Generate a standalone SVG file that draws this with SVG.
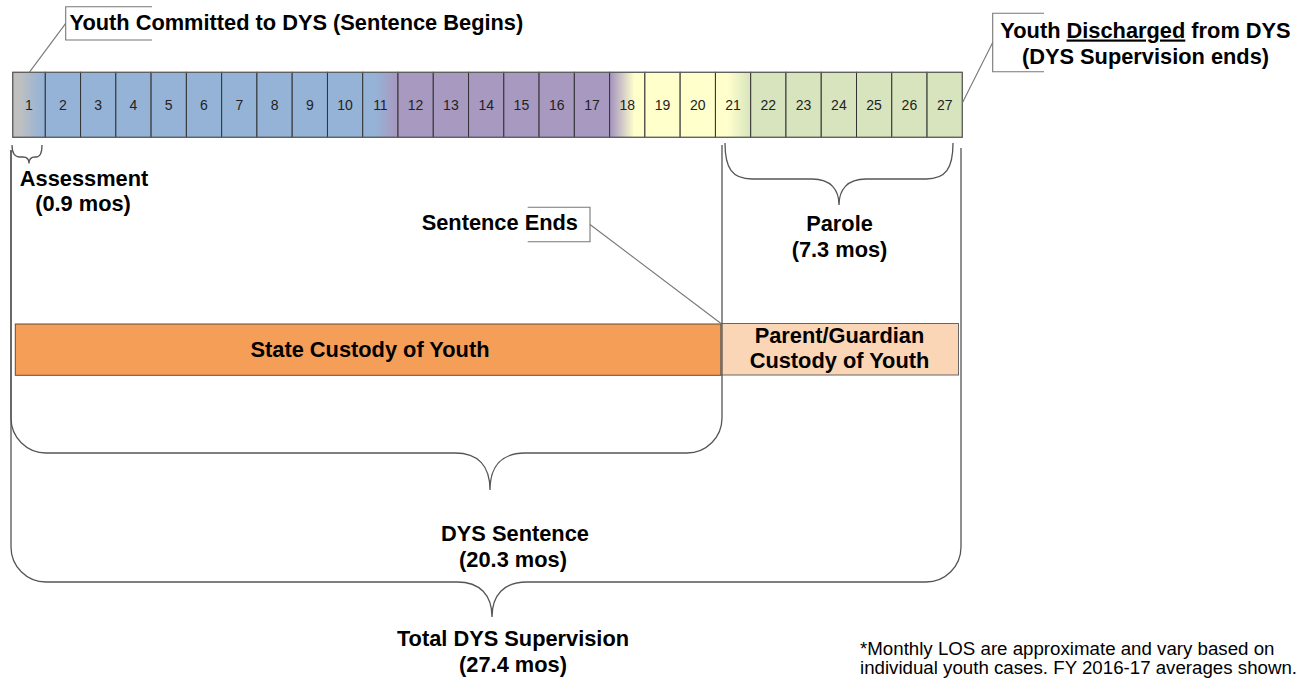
<svg xmlns="http://www.w3.org/2000/svg" width="1306" height="679" viewBox="0 0 1306 679">
<style>
.lbl{font-family:"Liberation Sans",Arial,sans-serif;font-weight:bold;font-size:21.8px;fill:#000}
.num{font-family:"Liberation Sans",Arial,sans-serif;font-size:14px;fill:#222;text-anchor:middle}
.note{font-family:"Liberation Sans",Arial,sans-serif;font-size:18.7px;fill:#000}
.mid{text-anchor:middle}
.cell{stroke:#333;stroke-width:1}
.blue{fill:#95B3D7}.purple{fill:#A899C0}.yellow{fill:#FFFFCC}.green{fill:#D7E4BD}
.brace{fill:none;stroke:#555;stroke-width:1.3}
.call{fill:none;stroke:#777;stroke-width:1.1}
</style>
<defs>
<linearGradient id="g1" x1="0" y1="0" x2="1" y2="0"><stop offset="0.2" stop-color="#C0C0C0"/><stop offset="0.9" stop-color="#95B3D7"/></linearGradient>
<linearGradient id="g11" x1="0" y1="0" x2="1" y2="0"><stop offset="0.35" stop-color="#95B3D7"/><stop offset="0.95" stop-color="#A899C0"/></linearGradient>
<linearGradient id="g18" x1="0" y1="0" x2="1" y2="0"><stop offset="0.05" stop-color="#A899C0"/><stop offset="0.7" stop-color="#FFFFCC"/></linearGradient>
<linearGradient id="g21" x1="0" y1="0" x2="1" y2="0"><stop offset="0.35" stop-color="#FFFFCC"/><stop offset="1" stop-color="#D7E4BD"/></linearGradient>
</defs>
<rect width="1306" height="679" fill="#fff"/>

<g id="timeline">
<g id="cell-1"><rect class="cell" x="12.7" y="72.3" width="32.6" height="65" fill="url(#g1)"/><text class="num" x="29" y="110">1</text></g>
<g id="cell-2"><rect class="cell blue" x="45.3" y="72.3" width="35.27" height="65"/><text class="num" x="62.9" y="110">2</text></g>
<g id="cell-3"><rect class="cell blue" x="80.57" y="72.3" width="35.27" height="65"/><text class="num" x="98.2" y="110">3</text></g>
<g id="cell-4"><rect class="cell blue" x="115.84" y="72.3" width="35.27" height="65"/><text class="num" x="133.5" y="110">4</text></g>
<g id="cell-5"><rect class="cell blue" x="151.11" y="72.3" width="35.27" height="65"/><text class="num" x="168.7" y="110">5</text></g>
<g id="cell-6"><rect class="cell blue" x="186.38" y="72.3" width="35.27" height="65"/><text class="num" x="204" y="110">6</text></g>
<g id="cell-7"><rect class="cell blue" x="221.65" y="72.3" width="35.27" height="65"/><text class="num" x="239.3" y="110">7</text></g>
<g id="cell-8"><rect class="cell blue" x="256.92" y="72.3" width="35.27" height="65"/><text class="num" x="274.6" y="110">8</text></g>
<g id="cell-9"><rect class="cell blue" x="292.19" y="72.3" width="35.27" height="65"/><text class="num" x="309.8" y="110">9</text></g>
<g id="cell-10"><rect class="cell blue" x="327.46" y="72.3" width="35.27" height="65"/><text class="num" x="345.1" y="110">10</text></g>
<g id="cell-11"><rect class="cell" x="362.73" y="72.3" width="35.27" height="65" fill="url(#g11)"/><text class="num" x="380.4" y="110">11</text></g>
<g id="cell-12"><rect class="cell purple" x="398" y="72.3" width="35.27" height="65"/><text class="num" x="415.6" y="110">12</text></g>
<g id="cell-13"><rect class="cell purple" x="433.27" y="72.3" width="35.27" height="65"/><text class="num" x="450.9" y="110">13</text></g>
<g id="cell-14"><rect class="cell purple" x="468.54" y="72.3" width="35.27" height="65"/><text class="num" x="486.2" y="110">14</text></g>
<g id="cell-15"><rect class="cell purple" x="503.81" y="72.3" width="35.27" height="65"/><text class="num" x="521.4" y="110">15</text></g>
<g id="cell-16"><rect class="cell purple" x="539.08" y="72.3" width="35.27" height="65"/><text class="num" x="556.7" y="110">16</text></g>
<g id="cell-17"><rect class="cell purple" x="574.35" y="72.3" width="35.27" height="65"/><text class="num" x="592" y="110">17</text></g>
<g id="cell-18"><rect class="cell" x="609.62" y="72.3" width="35.27" height="65" fill="url(#g18)"/><text class="num" x="627.3" y="110">18</text></g>
<g id="cell-19"><rect class="cell yellow" x="644.89" y="72.3" width="35.27" height="65"/><text class="num" x="662.5" y="110">19</text></g>
<g id="cell-20"><rect class="cell yellow" x="680.16" y="72.3" width="35.27" height="65"/><text class="num" x="697.8" y="110">20</text></g>
<g id="cell-21"><rect class="cell" x="715.43" y="72.3" width="35.27" height="65" fill="url(#g21)"/><text class="num" x="733.1" y="110">21</text></g>
<g id="cell-22"><rect class="cell green" x="750.7" y="72.3" width="35.27" height="65"/><text class="num" x="768.3" y="110">22</text></g>
<g id="cell-23"><rect class="cell green" x="785.97" y="72.3" width="35.27" height="65"/><text class="num" x="803.6" y="110">23</text></g>
<g id="cell-24"><rect class="cell green" x="821.24" y="72.3" width="35.27" height="65"/><text class="num" x="838.9" y="110">24</text></g>
<g id="cell-25"><rect class="cell green" x="856.51" y="72.3" width="35.27" height="65"/><text class="num" x="874.1" y="110">25</text></g>
<g id="cell-26"><rect class="cell green" x="891.78" y="72.3" width="35.27" height="65"/><text class="num" x="909.4" y="110">26</text></g>
<g id="cell-27"><rect class="cell green" x="927.05" y="72.3" width="35.27" height="65"/><text class="num" x="944.7" y="110">27</text></g>
<rect x="12.7" y="72.3" width="949.6" height="65" fill="none" stroke="#666" stroke-width="1"/>
</g>

<g id="committed">
<path class="call" d="M152,6.7 H65.7 V40 H152"/>
<text class="lbl" x="69.5" y="29.5">Youth Committed to DYS (Sentence Begins)</text>
</g>

<g id="discharged">
<path class="call" d="M1044,13.3 H992.7 V71.7 H1044"/>
<text class="lbl mid" x="1145.5" y="37.5">Youth <tspan text-decoration="underline">Discharged</tspan> from DYS</text>
<text class="lbl mid" x="1145.5" y="64">(DYS Supervision ends)</text>
</g>

<g id="sentence-ends">
<path class="call" d="M527.7,207.3 H590 V241.7 H527.7"/>
<text class="lbl" x="421.7" y="230">Sentence Ends</text>
</g>

<g id="assessment">
<path class="brace" d="M12,145 C12,153 14,157 20,157 H23 C27,157 29,159 29,163.5 C29,159 31,157 35,157 H36 C40,157 42,153 42,145"/>
<text class="lbl mid" x="84" y="186">Assessment</text>
<text class="lbl mid" x="83" y="211">(0.9 mos)</text>
</g>

<g id="parole">
<path class="brace" d="M725,143 C725,168 732,179 752,179 H812 C831,179 839,190 839,205 C839,190 847,179 866,179 H926 C946,179 953,168 953,143"/>
<text class="lbl mid" x="839.5" y="231">Parole</text>
<text class="lbl mid" x="839.5" y="257">(7.3 mos)</text>
</g>

<g id="state-custody">
<rect x="15.3" y="324" width="705.7" height="51.3" fill="#F59E58" stroke="#6b4a2e" stroke-width="1"/>
<text class="lbl mid" x="370" y="357">State Custody of Youth</text>
</g>

<g id="parent-custody">
<rect x="721" y="323.5" width="237.5" height="51.5" fill="#FBD6B6" stroke="#666" stroke-width="1"/>
<text class="lbl mid" x="839.5" y="342.5">Parent/Guardian</text>
<text class="lbl mid" x="839.5" y="367.5">Custody of Youth</text>
</g>

<g id="dys-sentence">
<path class="brace" d="M11,150 V418 A35,35 0 0 0 46,453 H455 C478,453 490,466 490,490 C490,466 502,453 525,453 H687 A35,35 0 0 0 722,418 V145"/>
<text class="lbl mid" x="515" y="541">DYS Sentence</text>
<text class="lbl mid" x="513" y="567">(20.3 mos)</text>
</g>

<g id="total-supervision">
<path class="brace" d="M11,150 V547 A35,35 0 0 0 46,582 H457 C480,582 492,595 492,617 C492,595 504,582 527,582 H926 A35,35 0 0 0 961,547 V148"/>
<text class="lbl mid" x="513" y="646">Total DYS Supervision</text>
<text class="lbl mid" x="513" y="672">(27.4 mos)</text>
</g>

<g id="connectors">
<line class="call" x1="65.7" y1="23.3" x2="29.3" y2="72.3"/>
<line class="call" x1="992.7" y1="42.5" x2="962.3" y2="103"/>
<line class="call" x1="590" y1="224.5" x2="721" y2="323.5"/>
</g>

<g id="footnote">
<text class="note" x="860" y="655">*Monthly LOS are approximate and vary based on</text>
<text class="note" x="860" y="674">individual youth cases. FY 2016-17 averages shown.</text>
</g>
</svg>
